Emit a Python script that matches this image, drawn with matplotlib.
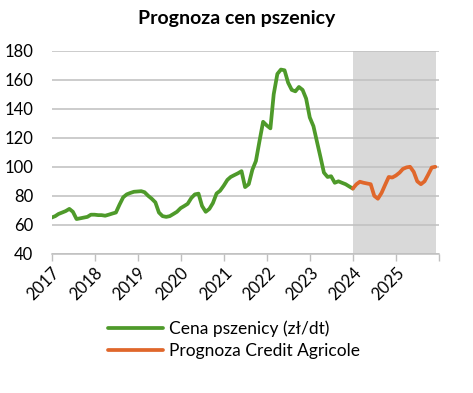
import matplotlib
matplotlib.use("Agg")
import matplotlib.pyplot as plt
import pandas as pd

plt.rcParams['font.family'] = ['Lato', 'DejaVu Sans']

title = "Prognoza cen pszenicy"
series_names = ["Cena pszenicy (zł/dt)", "Prognoza Credit Agricole"]

price = [65, 66, 67.5, 68.5, 69.5, 71, 69, 64, 64.5, 65, 65.5, 67,
         67, 66.7, 66.7, 66.3, 67, 67.8, 68.5, 74, 79, 81, 82, 82.8,
         83, 83.2, 82.5, 80, 78, 75.5, 68.5, 66, 65.5, 66, 67.5, 69,
         71.5, 73, 74.5, 78.5, 81, 81.5, 73, 69, 71, 75, 81.6, 83.5,
         87, 91, 93, 94.3, 95.5, 97, 86, 88, 98, 104, 118, 131,
         128.5, 126.5, 150, 164, 167, 166.5, 158, 153, 152, 155, 153, 147,
         134, 128, 118, 107, 96, 93, 93.5, 89, 90, 89, 88, 86.5,
         85]
forecast = [85, 88, 89.7, 89, 88.5, 88, 80, 78, 82, 87.5, 93, 92.6,
            94, 96, 98.5, 99.6, 100, 96.5, 90, 88, 90, 94.5, 99.5, 100]

price_start = "2017-01-01"
forecast_start = "2024-01-01"
years = list(range(2017, 2027))
year_labels = [str(y) for y in range(2017, 2026)] + [""]
yticks = [40, 60, 80, 100, 120, 140, 160, 180]

price_dates = pd.date_range(price_start, periods=len(price), freq="MS")
fc_dates = pd.date_range(forecast_start, periods=len(forecast), freq="MS")

fig = plt.figure(figsize=(4.73, 3.93), dpi=100)
ax = fig.add_axes([0.109, 0.354, 0.819, 0.517])

ax.axvspan(pd.Timestamp(forecast_start), fc_dates[-1] + pd.Timedelta(days=3),
           color="#D9D9D9", zorder=0, lw=0)

ax.plot(price_dates, price, color="#4E9A2A", lw=2.7, zorder=3,
        solid_capstyle="round", solid_joinstyle="round", label=series_names[0])
ax.plot(fc_dates, forecast, color="#E0672B", lw=2.7, zorder=3,
        solid_capstyle="round", solid_joinstyle="round", label=series_names[1])

ax.set_ylim(40, 180)
ax.set_yticks(yticks)
ax.set_xlim(pd.Timestamp("2017-01-01"), pd.Timestamp("2026-01-01"))
ax.set_xticks([pd.Timestamp(f"{y}-01-01") for y in years])
ax.set_xticklabels(year_labels, rotation=45, ha="right", rotation_mode="anchor",
                   fontsize=12)
ax.tick_params(axis="y", length=0, labelsize=12, pad=13)
ax.tick_params(axis="x", length=5, color="#BFBFBF", width=1, pad=3)

ax.grid(axis="y", color="#BFBFBF", lw=1.1, zorder=1)
ax.set_axisbelow(True)
for s in ["top", "right", "left"]:
    ax.spines[s].set_visible(False)
ax.spines["bottom"].set_color("#BFBFBF")
ax.spines["bottom"].set_linewidth(1.1)

fig.text(0.5, 0.954, title, ha="center", va="center", fontsize=14, fontweight="bold")

fig.legend(loc="upper left", bbox_to_anchor=(0.228, 0.185), frameon=False,
           fontsize=12.5, handlelength=3.2, handletextpad=0.35, labelspacing=0.38,
           borderaxespad=0, borderpad=0)

fig.savefig("out.png", dpi=100)
